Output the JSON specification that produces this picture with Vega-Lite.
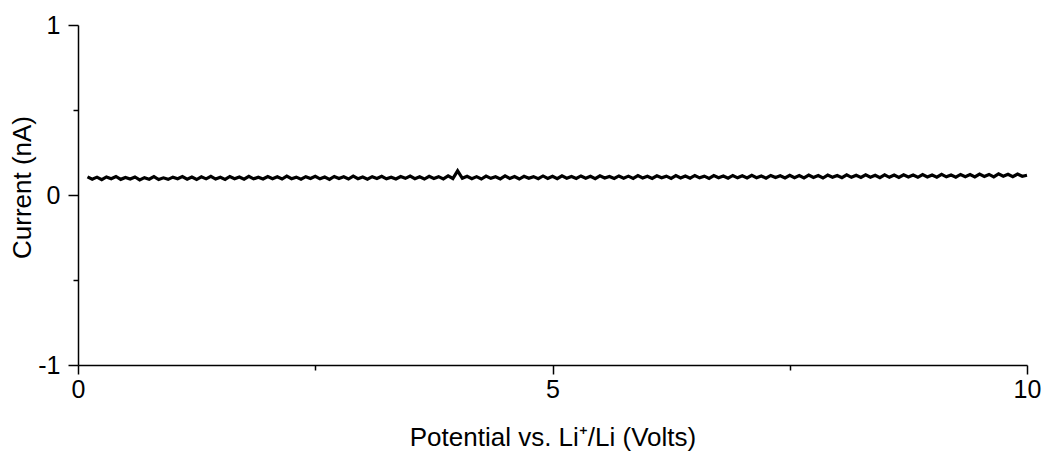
{
  "$schema": "https://vega.github.io/schema/vega-lite/v6.json",
  "width": 949,
  "height": 340,
  "autosize": "none",
  "padding": {"left": 78, "top": 25, "right": 18, "bottom": 93},
  "background": "white",
  "config": {
    "view": {"stroke": null},
    "font": "Liberation Sans",
    "axis": {
      "domainColor": "black",
      "domainWidth": 1.5,
      "tickColor": "black",
      "tickWidth": 1.5,
      "labelFont": "Liberation Sans",
      "labelFontSize": 25,
      "labelColor": "black",
      "titleFont": "Liberation Sans",
      "titleFontSize": 26,
      "titleFontWeight": "normal",
      "titleColor": "black",
      "grid": false
    }
  },
  "data": {
    "values": [
      {"v":0.10,"c":0.107},{"v":0.15,"c":0.093},{"v":0.20,"c":0.105},{"v":0.25,"c":0.090},{"v":0.30,"c":0.106},
      {"v":0.35,"c":0.096},{"v":0.40,"c":0.109},{"v":0.45,"c":0.092},{"v":0.50,"c":0.103},{"v":0.55,"c":0.094},
      {"v":0.60,"c":0.106},{"v":0.65,"c":0.089},{"v":0.70,"c":0.102},{"v":0.75,"c":0.093},{"v":0.80,"c":0.108},
      {"v":0.85,"c":0.091},{"v":0.90,"c":0.101},{"v":0.95,"c":0.092},{"v":1.00,"c":0.105},{"v":1.05,"c":0.096},
      {"v":1.10,"c":0.108},{"v":1.15,"c":0.093},{"v":1.20,"c":0.106},{"v":1.25,"c":0.091},{"v":1.30,"c":0.107},
      {"v":1.35,"c":0.095},{"v":1.40,"c":0.110},{"v":1.45,"c":0.094},{"v":1.50,"c":0.104},{"v":1.55,"c":0.092},
      {"v":1.60,"c":0.109},{"v":1.65,"c":0.096},{"v":1.70,"c":0.106},{"v":1.75,"c":0.093},{"v":1.80,"c":0.110},
      {"v":1.85,"c":0.095},{"v":1.90,"c":0.105},{"v":1.95,"c":0.094},{"v":2.00,"c":0.109},{"v":2.05,"c":0.096},
      {"v":2.10,"c":0.107},{"v":2.15,"c":0.094},{"v":2.20,"c":0.111},{"v":2.25,"c":0.096},{"v":2.30,"c":0.105},
      {"v":2.35,"c":0.093},{"v":2.40,"c":0.108},{"v":2.45,"c":0.097},{"v":2.50,"c":0.110},{"v":2.55,"c":0.095},
      {"v":2.60,"c":0.106},{"v":2.65,"c":0.092},{"v":2.70,"c":0.109},{"v":2.75,"c":0.097},{"v":2.80,"c":0.107},
      {"v":2.85,"c":0.094},{"v":2.90,"c":0.111},{"v":2.95,"c":0.096},{"v":3.00,"c":0.106},{"v":3.05,"c":0.093},
      {"v":3.10,"c":0.108},{"v":3.15,"c":0.097},{"v":3.20,"c":0.110},{"v":3.25,"c":0.095},{"v":3.30,"c":0.105},
      {"v":3.35,"c":0.094},{"v":3.40,"c":0.109},{"v":3.45,"c":0.098},{"v":3.50,"c":0.111},{"v":3.55,"c":0.096},
      {"v":3.60,"c":0.107},{"v":3.65,"c":0.094},{"v":3.70,"c":0.110},{"v":3.75,"c":0.097},{"v":3.80,"c":0.108},
      {"v":3.85,"c":0.095},{"v":3.90,"c":0.112},{"v":3.95,"c":0.097},{"v":4.00,"c":0.142},{"v":4.05,"c":0.098},
      {"v":4.10,"c":0.110},{"v":4.15,"c":0.096},{"v":4.20,"c":0.108},{"v":4.25,"c":0.094},{"v":4.30,"c":0.111},
      {"v":4.35,"c":0.098},{"v":4.40,"c":0.107},{"v":4.45,"c":0.095},{"v":4.50,"c":0.112},{"v":4.55,"c":0.097},
      {"v":4.60,"c":0.109},{"v":4.65,"c":0.094},{"v":4.70,"c":0.110},{"v":4.75,"c":0.098},{"v":4.80,"c":0.108},
      {"v":4.85,"c":0.096},{"v":4.90,"c":0.112},{"v":4.95,"c":0.097},{"v":5.00,"c":0.110},{"v":5.05,"c":0.096},
      {"v":5.10,"c":0.113},{"v":5.15,"c":0.099},{"v":5.20,"c":0.109},{"v":5.25,"c":0.097},{"v":5.30,"c":0.112},
      {"v":5.35,"c":0.099},{"v":5.40,"c":0.110},{"v":5.45,"c":0.096},{"v":5.50,"c":0.113},{"v":5.55,"c":0.100},
      {"v":5.60,"c":0.109},{"v":5.65,"c":0.097},{"v":5.70,"c":0.112},{"v":5.75,"c":0.099},{"v":5.80,"c":0.111},
      {"v":5.85,"c":0.098},{"v":5.90,"c":0.114},{"v":5.95,"c":0.100},{"v":6.00,"c":0.110},{"v":6.05,"c":0.097},
      {"v":6.10,"c":0.113},{"v":6.15,"c":0.101},{"v":6.20,"c":0.111},{"v":6.25,"c":0.098},{"v":6.30,"c":0.114},
      {"v":6.35,"c":0.100},{"v":6.40,"c":0.112},{"v":6.45,"c":0.099},{"v":6.50,"c":0.115},{"v":6.55,"c":0.101},
      {"v":6.60,"c":0.111},{"v":6.65,"c":0.098},{"v":6.70,"c":0.114},{"v":6.75,"c":0.102},{"v":6.80,"c":0.112},
      {"v":6.85,"c":0.099},{"v":6.90,"c":0.115},{"v":6.95,"c":0.101},{"v":7.00,"c":0.113},{"v":7.05,"c":0.100},
      {"v":7.10,"c":0.116},{"v":7.15,"c":0.102},{"v":7.20,"c":0.112},{"v":7.25,"c":0.099},{"v":7.30,"c":0.115},
      {"v":7.35,"c":0.103},{"v":7.40,"c":0.113},{"v":7.45,"c":0.100},{"v":7.50,"c":0.116},{"v":7.55,"c":0.102},
      {"v":7.60,"c":0.114},{"v":7.65,"c":0.101},{"v":7.70,"c":0.117},{"v":7.75,"c":0.103},{"v":7.80,"c":0.114},
      {"v":7.85,"c":0.100},{"v":7.90,"c":0.117},{"v":7.95,"c":0.104},{"v":8.00,"c":0.115},{"v":8.05,"c":0.102},
      {"v":8.10,"c":0.118},{"v":8.15,"c":0.104},{"v":8.20,"c":0.116},{"v":8.25,"c":0.103},{"v":8.30,"c":0.119},
      {"v":8.35,"c":0.105},{"v":8.40,"c":0.116},{"v":8.45,"c":0.102},{"v":8.50,"c":0.118},{"v":8.55,"c":0.104},
      {"v":8.60,"c":0.117},{"v":8.65,"c":0.103},{"v":8.70,"c":0.119},{"v":8.75,"c":0.106},{"v":8.80,"c":0.117},
      {"v":8.85,"c":0.104},{"v":8.90,"c":0.120},{"v":8.95,"c":0.106},{"v":9.00,"c":0.118},{"v":9.05,"c":0.105},
      {"v":9.10,"c":0.121},{"v":9.15,"c":0.107},{"v":9.20,"c":0.118},{"v":9.25,"c":0.105},{"v":9.30,"c":0.121},
      {"v":9.35,"c":0.108},{"v":9.40,"c":0.120},{"v":9.45,"c":0.106},{"v":9.50,"c":0.123},{"v":9.55,"c":0.109},
      {"v":9.60,"c":0.121},{"v":9.65,"c":0.107},{"v":9.70,"c":0.124},{"v":9.75,"c":0.110},{"v":9.80,"c":0.122},
      {"v":9.85,"c":0.108},{"v":9.90,"c":0.123},{"v":9.95,"c":0.110},{"v":10.00,"c":0.116}
    ]
  },
  "mark": {"type": "line", "color": "black", "strokeWidth": 3.2, "strokeJoin": "miter"},
  "encoding": {
    "x": {
      "field": "v",
      "type": "quantitative",
      "scale": {"domain": [0, 10], "nice": false, "zero": false},
      "axis": {
        "title": "Potential vs. Li⁺/Li (Volts)",
        "values": [0, 2.5, 5, 7.5, 10],
        "labelExpr": "datum.value == 0 ? '0' : datum.value == 5 ? '5' : datum.value == 10 ? '10' : ''",
        "tickSize": {"condition": {"test": "datum.value % 5 == 0", "value": 9}, "value": 5},
        "labelPadding": 3,
        "labelFlush": false,
        "labelOverlap": false,
        "titlePadding": 22
      }
    },
    "y": {
      "field": "c",
      "type": "quantitative",
      "scale": {"domain": [-1, 1], "nice": false, "zero": false},
      "axis": {
        "title": "Current (nA)",
        "titleY": 162,
        "values": [-1, -0.5, 0, 0.5, 1],
        "labelExpr": "datum.value == -1 ? '-1' : datum.value == 0 ? '0' : datum.value == 1 ? '1' : ''",
        "tickSize": {"condition": {"test": "datum.value % 1 == 0", "value": 10}, "value": 5},
        "labelPadding": 8,
        "labelFlush": false,
        "labelOverlap": false,
        "titlePadding": 2
      }
    }
  }
}
